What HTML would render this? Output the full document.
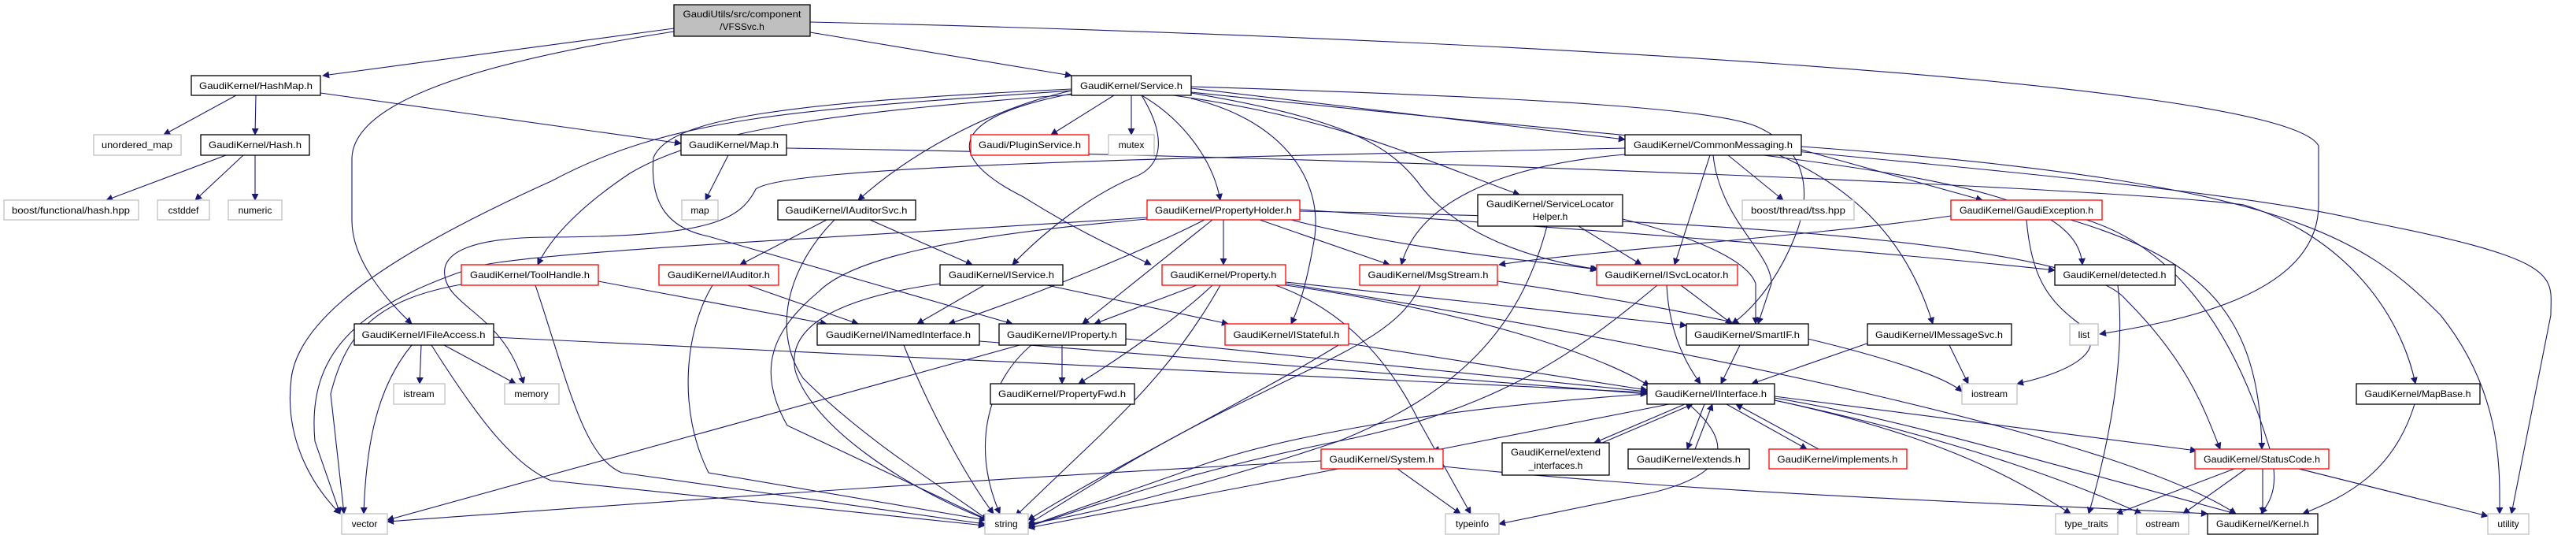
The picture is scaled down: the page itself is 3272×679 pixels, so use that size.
<!DOCTYPE html>
<html><head><meta charset="utf-8"><style>
html,body{margin:0;padding:0;background:#fff;}
svg{display:block;}
text{font-family:"Liberation Sans",sans-serif;font-size:12px;fill:#000;}
.e{fill:none;stroke:#191970;stroke-width:1.1;}
</style></head><body>
<svg width="3272" height="679" viewBox="0 0 3272 679" xmlns="http://www.w3.org/2000/svg">
<defs><marker id="a" viewBox="0 0 10 10" refX="9" refY="5" markerWidth="9" markerHeight="9" markerUnits="userSpaceOnUse" orient="auto"><path d="M0,0 L10,5 L0,10 z" fill="#191970"/></marker></defs>
<g marker-end="url(#a)">
<path class="e" d="M856,36 L410,96"/>
<path class="e" d="M856,40 C600,80 450,130 447,200 L447,280 C447,330 490,380 523,411"/>
<path class="e" d="M1029,41 L1361,96"/>
<path class="e" d="M1029,28 C1800,45 2900,100 2945,185 L2945,260 C2945,380 2750,410 2667,424"/>
<path class="e" d="M300,121 L208,171"/>
<path class="e" d="M325,121 L324,171"/>
<path class="e" d="M407,118 L865,182"/>
<path class="e" d="M287,197 L135,254"/>
<path class="e" d="M309,197 L248,254"/>
<path class="e" d="M324,197 L324,254"/>
<path class="e" d="M925,197 L896,254"/>
<path class="e" d="M999,188 C1800,200 2700,240 2850,260 C2980,300 3050,400 3068,487"/>
<path class="e" d="M1415,121 L1335,171"/>
<path class="e" d="M1437,121 L1437,171"/>
<path class="e" d="M1361,115 C1250,140 1150,200 1090,254"/>
<path class="e" d="M1450,121 C1500,150 1540,200 1550,254"/>
<path class="e" d="M1450,121 C1480,170 1480,210 1440,225 C1380,250 1320,300 1286,336"/>
<path class="e" d="M1361,119 C1200,150 1200,200 1300,250 C1380,300 1430,320 1462,336"/>
<path class="e" d="M1513,112 L2064,177"/>
<path class="e" d="M1490,121 C1700,150 1800,200 1930,247"/>
<path class="e" d="M1513,118 C1700,150 1760,180 1800,230 C1850,300 1950,330 2030,342"/>
<path class="e" d="M1513,110 C2000,125 2180,140 2230,160 C2300,190 2300,250 2280,300 C2260,350 2230,390 2200,411"/>
<path class="e" d="M1513,125 C1620,150 1680,220 1670,300 C1660,360 1650,390 1640,411"/>
<path class="e" d="M1361,120 C1100,140 900,160 800,220 C740,260 700,300 683,336"/>
<path class="e" d="M1361,115 C1000,140 850,150 700,230 C500,320 380,400 370,480 C360,560 400,620 432,652"/>
<path class="e" d="M2064,188 C1500,200 1000,210 960,240 C940,280 900,300 700,301 C600,301 560,320 565,350 C570,390 640,400 665,487"/>
<path class="e" d="M1361,113 C1000,130 850,150 830,200 C825,260 850,290 900,300 L1286,411"/>
<path class="e" d="M1513,117 C2200,190 2800,230 3000,280 C3260,330 3240,350 3240,400 L3190,652"/>
<path class="e" d="M1530,279 C1450,320 1300,380 1205,411"/>
<path class="e" d="M1540,279 L1375,411"/>
<path class="e" d="M1554,279 L1554,336"/>
<path class="e" d="M1600,279 L1765,336"/>
<path class="e" d="M1640,279 C1800,320 1950,330 2028,342"/>
<path class="e" d="M1457,276 C1100,300 650,320 600,340 C450,390 390,450 400,560 L432,652"/>
<path class="e" d="M1457,278 C1200,300 1080,330 1040,370 C980,420 960,470 1000,540 L1255,660"/>
<path class="e" d="M1651,266 C2000,290 2400,320 2610,343"/>
<path class="e" d="M1651,268 C2300,280 2650,320 2700,380 C2780,460 2800,520 2820,570"/>
<path class="e" d="M1520,362 L1390,411"/>
<path class="e" d="M1540,362 C1500,400 1430,450 1370,487"/>
<path class="e" d="M1550,362 C1500,450 1450,500 1400,550 L1290,655"/>
<path class="e" d="M1620,362 C1700,390 1760,450 1800,530 L1868,652"/>
<path class="e" d="M1633,358 L2142,413"/>
<path class="e" d="M1633,362 C1900,400 2050,460 2095,490"/>
<path class="e" d="M1633,360 C2200,450 2700,560 2840,652"/>
<path class="e" d="M1250,362 L1165,411"/>
<path class="e" d="M1330,362 L1560,411"/>
<path class="e" d="M1194,360 C1050,380 1000,420 1010,470 C1030,540 1150,620 1255,660"/>
<path class="e" d="M1050,279 L940,336"/>
<path class="e" d="M1105,279 L1235,336"/>
<path class="e" d="M1060,279 C1000,340 980,420 1020,480 C1100,560 1200,620 1255,660"/>
<path class="e" d="M950,362 L1090,411"/>
<path class="e" d="M905,362 C870,420 860,520 900,600 L1252,660"/>
<path class="e" d="M760,357 L1050,411"/>
<path class="e" d="M586,361 C480,380 440,420 420,500 L437,652"/>
<path class="e" d="M680,362 C720,480 740,580 790,600 L1251,665"/>
<path class="e" d="M535,438 L533,487"/>
<path class="e" d="M564,438 L655,487"/>
<path class="e" d="M523,438 C480,490 465,560 462,652"/>
<path class="e" d="M548,438 C600,520 650,590 700,610 L1251,667"/>
<path class="e" d="M627,428 L2092,498"/>
<path class="e" d="M1148,438 C1180,520 1230,610 1262,652"/>
<path class="e" d="M1244,433 L2092,500"/>
<path class="e" d="M1349,438 L1349,487"/>
<path class="e" d="M1310,438 C1260,480 1230,560 1270,652"/>
<path class="e" d="M1295,438 L492,660"/>
<path class="e" d="M1430,430 L2092,497"/>
<path class="e" d="M1713,436 L2092,495"/>
<path class="e" d="M1700,438 C1600,500 1400,600 1306,660"/>
<path class="e" d="M1804,362 C1780,420 1700,450 1600,500 C1450,570 1350,640 1306,665"/>
<path class="e" d="M1902,357 C2200,400 2450,460 2492,497"/>
<path class="e" d="M2005,287 L2085,336"/>
<path class="e" d="M2061,278 C2150,300 2220,330 2230,360 L2230,411"/>
<path class="e" d="M1965,287 C1930,420 1850,500 1700,560 C1550,610 1400,650 1306,665"/>
<path class="e" d="M2064,196 C1900,210 1800,260 1780,336"/>
<path class="e" d="M2172,197 L2127,336"/>
<path class="e" d="M2176,197 C2185,280 2250,320 2250,360 L2233,411"/>
<path class="e" d="M2195,197 L2265,254"/>
<path class="e" d="M2288,190 L2518,254"/>
<path class="e" d="M2240,197 C2500,230 2640,260 2645,336"/>
<path class="e" d="M2260,197 C2380,250 2430,330 2455,411"/>
<path class="e" d="M2105,362 C2000,450 1900,520 1700,560 C1500,600 1400,640 1306,668"/>
<path class="e" d="M2135,362 L2200,411"/>
<path class="e" d="M2117,362 C2120,420 2140,460 2160,487"/>
<path class="e" d="M2210,438 L2186,487"/>
<path class="e" d="M2380,433 L2225,487"/>
<path class="e" d="M2476,438 L2500,487"/>
<path class="e" d="M2478,274 C2300,300 2000,320 1904,336"/>
<path class="e" d="M2574,279 C2580,350 2600,380 2640,410 C2680,440 2640,470 2562,487"/>
<path class="e" d="M2630,279 C2800,330 2870,400 2873,570"/>
<path class="e" d="M2650,279 C2750,310 2830,400 2880,560 C2900,620 2880,640 2872,652"/>
<path class="e" d="M2690,362 C2700,450 2680,560 2653,652"/>
<path class="e" d="M2838,595 L2688,652"/>
<path class="e" d="M2853,595 L2773,652"/>
<path class="e" d="M2874,595 L2874,652"/>
<path class="e" d="M2920,595 L3160,655"/>
<path class="e" d="M3067,513 C3040,600 2980,630 2925,652"/>
<path class="e" d="M2120,513 L1820,572"/>
<path class="e" d="M2140,513 L2025,562"/>
<path class="e" d="M2035,562 L2150,513"/>
<path class="e" d="M2165,513 L2143,570"/>
<path class="e" d="M2153,570 L2175,513"/>
<path class="e" d="M2193,513 L2295,570"/>
<path class="e" d="M2310,570 L2205,513"/>
<path class="e" d="M2254,503 L2790,572"/>
<path class="e" d="M2145,513 C2200,560 2200,600 2100,625 L1904,665"/>
<path class="e" d="M2254,508 C2450,550 2550,600 2630,652"/>
<path class="e" d="M2254,508 C2500,560 2650,620 2720,652"/>
<path class="e" d="M2254,505 C2400,530 2500,560 2840,652"/>
<path class="e" d="M2092,500 C1800,520 1600,560 1500,600 L1306,668"/>
<path class="e" d="M1775,595 L1855,652"/>
<path class="e" d="M1678,585 C1200,610 800,640 492,662"/>
<path class="e" d="M1700,595 L1306,670"/>
<path class="e" d="M1833,592 C2200,630 2600,640 2804,652"/>
<path class="e" d="M2288,186 C2900,230 3000,300 3100,400 C3180,500 3175,600 3175,652"/>
</g>
<g id="nodes" stroke-width="1.3">
<rect x="856" y="6" width="173" height="40" fill="#bfbfbf" stroke="#000"/>
<text x="942.5" y="22" text-anchor="middle" textLength="150" lengthAdjust="spacingAndGlyphs">GaudiUtils/src/component</text>
<text x="942.5" y="38" text-anchor="middle">/VFSSvc.h</text>
<rect x="1877" y="247" width="184" height="40" fill="#fff" stroke="#000"/>
<text x="1969" y="263" text-anchor="middle" textLength="162" lengthAdjust="spacingAndGlyphs">GaudiKernel/ServiceLocator</text>
<text x="1969" y="279" text-anchor="middle">Helper.h</text>
<rect x="1908" y="562" width="136" height="41" fill="#fff" stroke="#000"/>
<text x="1976" y="578" text-anchor="middle" textLength="114" lengthAdjust="spacingAndGlyphs">GaudiKernel/extend</text>
<text x="1976" y="595" text-anchor="middle">_interfaces.h</text>
</g>
<g stroke-width="1.3">
<!-- black nodes -->
<rect x="243" y="96" width="164" height="25" fill="#fff" stroke="#000"/><text x="325" y="113" text-anchor="middle" textLength="144" lengthAdjust="spacingAndGlyphs">GaudiKernel/HashMap.h</text>
<rect x="255" y="171" width="138" height="26" fill="#fff" stroke="#000"/><text x="324" y="188" text-anchor="middle" textLength="118" lengthAdjust="spacingAndGlyphs">GaudiKernel/Hash.h</text>
<rect x="450" y="411" width="177" height="27" fill="#fff" stroke="#000"/><text x="538" y="429" text-anchor="middle" textLength="157" lengthAdjust="spacingAndGlyphs">GaudiKernel/IFileAccess.h</text>
<rect x="1361" y="96" width="152" height="25" fill="#fff" stroke="#000"/><text x="1437" y="113" text-anchor="middle" textLength="130" lengthAdjust="spacingAndGlyphs">GaudiKernel/Service.h</text>
<rect x="865" y="171" width="134" height="26" fill="#fff" stroke="#000"/><text x="932" y="188" text-anchor="middle" textLength="114" lengthAdjust="spacingAndGlyphs">GaudiKernel/Map.h</text>
<rect x="988" y="254" width="175" height="25" fill="#fff" stroke="#000"/><text x="1075" y="271" text-anchor="middle" textLength="155" lengthAdjust="spacingAndGlyphs">GaudiKernel/IAuditorSvc.h</text>
<rect x="1194" y="336" width="156" height="26" fill="#fff" stroke="#000"/><text x="1272" y="353" text-anchor="middle" textLength="134" lengthAdjust="spacingAndGlyphs">GaudiKernel/IService.h</text>
<rect x="1038" y="411" width="206" height="27" fill="#fff" stroke="#000"/><text x="1141" y="429" text-anchor="middle" textLength="184" lengthAdjust="spacingAndGlyphs">GaudiKernel/INamedInterface.h</text>
<rect x="1269" y="411" width="161" height="27" fill="#fff" stroke="#000"/><text x="1349" y="429" text-anchor="middle" textLength="140" lengthAdjust="spacingAndGlyphs">GaudiKernel/IProperty.h</text>
<rect x="1258" y="487" width="183" height="26" fill="#fff" stroke="#000"/><text x="1349" y="504" text-anchor="middle" textLength="162" lengthAdjust="spacingAndGlyphs">GaudiKernel/PropertyFwd.h</text>
<rect x="2064" y="171" width="224" height="26" fill="#fff" stroke="#000"/><text x="2176" y="188" text-anchor="middle" textLength="202" lengthAdjust="spacingAndGlyphs">GaudiKernel/CommonMessaging.h</text>
<rect x="2142" y="411" width="155" height="27" fill="#fff" stroke="#000"/><text x="2219" y="429" text-anchor="middle" textLength="134" lengthAdjust="spacingAndGlyphs">GaudiKernel/SmartIF.h</text>
<rect x="2372" y="411" width="183" height="27" fill="#fff" stroke="#000"/><text x="2463" y="429" text-anchor="middle" textLength="162" lengthAdjust="spacingAndGlyphs">GaudiKernel/IMessageSvc.h</text>
<rect x="2092" y="487" width="162" height="26" fill="#fff" stroke="#000"/><text x="2173" y="504" text-anchor="middle" textLength="142" lengthAdjust="spacingAndGlyphs">GaudiKernel/IInterface.h</text>
<rect x="2068" y="570" width="154" height="25" fill="#fff" stroke="#000"/><text x="2145" y="587" text-anchor="middle" textLength="132" lengthAdjust="spacingAndGlyphs">GaudiKernel/extends.h</text>
<rect x="2610" y="336" width="153" height="26" fill="#fff" stroke="#000"/><text x="2686" y="353" text-anchor="middle" textLength="131" lengthAdjust="spacingAndGlyphs">GaudiKernel/detected.h</text>
<rect x="2993" y="487" width="157" height="26" fill="#fff" stroke="#000"/><text x="3071" y="504" text-anchor="middle" textLength="135" lengthAdjust="spacingAndGlyphs">GaudiKernel/MapBase.h</text>
<rect x="2804" y="652" width="140" height="26" fill="#fff" stroke="#000"/><text x="2874" y="669" text-anchor="middle" textLength="118" lengthAdjust="spacingAndGlyphs">GaudiKernel/Kernel.h</text>
<!-- red nodes -->
<rect x="586" y="336" width="174" height="26" fill="#fff" stroke="#f00"/><text x="673" y="353" text-anchor="middle" textLength="152" lengthAdjust="spacingAndGlyphs">GaudiKernel/ToolHandle.h</text>
<rect x="1233" y="171" width="150" height="26" fill="#fff" stroke="#f00"/><text x="1308" y="188" text-anchor="middle" textLength="130" lengthAdjust="spacingAndGlyphs">Gaudi/PluginService.h</text>
<rect x="1457" y="254" width="194" height="25" fill="#fff" stroke="#f00"/><text x="1554" y="271" text-anchor="middle" textLength="174" lengthAdjust="spacingAndGlyphs">GaudiKernel/PropertyHolder.h</text>
<rect x="837" y="336" width="152" height="26" fill="#fff" stroke="#f00"/><text x="913" y="353" text-anchor="middle" textLength="130" lengthAdjust="spacingAndGlyphs">GaudiKernel/IAuditor.h</text>
<rect x="1476" y="336" width="157" height="26" fill="#fff" stroke="#f00"/><text x="1554" y="353" text-anchor="middle" textLength="135" lengthAdjust="spacingAndGlyphs">GaudiKernel/Property.h</text>
<rect x="1556" y="411" width="157" height="27" fill="#fff" stroke="#f00"/><text x="1634" y="429" text-anchor="middle" textLength="135" lengthAdjust="spacingAndGlyphs">GaudiKernel/IStateful.h</text>
<rect x="1727" y="336" width="175" height="26" fill="#fff" stroke="#f00"/><text x="1814" y="353" text-anchor="middle" textLength="153" lengthAdjust="spacingAndGlyphs">GaudiKernel/MsgStream.h</text>
<rect x="2028" y="336" width="179" height="26" fill="#fff" stroke="#f00"/><text x="2117" y="353" text-anchor="middle" textLength="157" lengthAdjust="spacingAndGlyphs">GaudiKernel/ISvcLocator.h</text>
<rect x="1678" y="570" width="155" height="25" fill="#fff" stroke="#f00"/><text x="1755" y="587" text-anchor="middle" textLength="133" lengthAdjust="spacingAndGlyphs">GaudiKernel/System.h</text>
<rect x="2247" y="570" width="175" height="25" fill="#fff" stroke="#f00"/><text x="2334" y="587" text-anchor="middle" textLength="153" lengthAdjust="spacingAndGlyphs">GaudiKernel/implements.h</text>
<rect x="2478" y="254" width="192" height="25" fill="#fff" stroke="#f00"/><text x="2574" y="271" text-anchor="middle" textLength="170" lengthAdjust="spacingAndGlyphs">GaudiKernel/GaudiException.h</text>
<rect x="2788" y="570" width="170" height="25" fill="#fff" stroke="#f00"/><text x="2873" y="587" text-anchor="middle" textLength="148" lengthAdjust="spacingAndGlyphs">GaudiKernel/StatusCode.h</text>
<!-- gray nodes -->
<rect x="119" y="171" width="111" height="26" fill="#fff" stroke="#bfbfbf"/><text x="174" y="188" text-anchor="middle" textLength="90" lengthAdjust="spacingAndGlyphs">unordered_map</text>
<rect x="5" y="254" width="171" height="25" fill="#fff" stroke="#bfbfbf"/><text x="90" y="271" text-anchor="middle" textLength="150" lengthAdjust="spacingAndGlyphs">boost/functional/hash.hpp</text>
<rect x="200" y="254" width="66" height="25" fill="#fff" stroke="#bfbfbf"/><text x="233" y="271" text-anchor="middle">cstddef</text>
<rect x="290" y="254" width="68" height="25" fill="#fff" stroke="#bfbfbf"/><text x="324" y="271" text-anchor="middle">numeric</text>
<rect x="500" y="487" width="65" height="26" fill="#fff" stroke="#bfbfbf"/><text x="532" y="504" text-anchor="middle">istream</text>
<rect x="641" y="487" width="69" height="26" fill="#fff" stroke="#bfbfbf"/><text x="675" y="504" text-anchor="middle">memory</text>
<rect x="434" y="652" width="58" height="26" fill="#fff" stroke="#bfbfbf"/><text x="463" y="669" text-anchor="middle">vector</text>
<rect x="1408" y="171" width="58" height="26" fill="#fff" stroke="#bfbfbf"/><text x="1437" y="188" text-anchor="middle">mutex</text>
<rect x="866" y="254" width="46" height="25" fill="#fff" stroke="#bfbfbf"/><text x="889" y="271" text-anchor="middle">map</text>
<rect x="1251" y="652" width="55" height="26" fill="#fff" stroke="#bfbfbf"/><text x="1278" y="669" text-anchor="middle">string</text>
<rect x="2213" y="254" width="142" height="25" fill="#fff" stroke="#bfbfbf"/><text x="2284" y="271" text-anchor="middle" textLength="120" lengthAdjust="spacingAndGlyphs">boost/thread/tss.hpp</text>
<rect x="1836" y="652" width="68" height="26" fill="#fff" stroke="#bfbfbf"/><text x="1870" y="669" text-anchor="middle">typeinfo</text>
<rect x="2629" y="411" width="36" height="27" fill="#fff" stroke="#bfbfbf"/><text x="2647" y="429" text-anchor="middle">list</text>
<rect x="2492" y="487" width="70" height="26" fill="#fff" stroke="#bfbfbf"/><text x="2527" y="504" text-anchor="middle">iostream</text>
<rect x="2611" y="652" width="79" height="26" fill="#fff" stroke="#bfbfbf"/><text x="2650" y="669" text-anchor="middle">type_traits</text>
<rect x="2714" y="652" width="66" height="26" fill="#fff" stroke="#bfbfbf"/><text x="2747" y="669" text-anchor="middle">ostream</text>
<rect x="3160" y="652" width="52" height="26" fill="#fff" stroke="#bfbfbf"/><text x="3186" y="669" text-anchor="middle">utility</text>
</g>
</svg>
</body></html>
